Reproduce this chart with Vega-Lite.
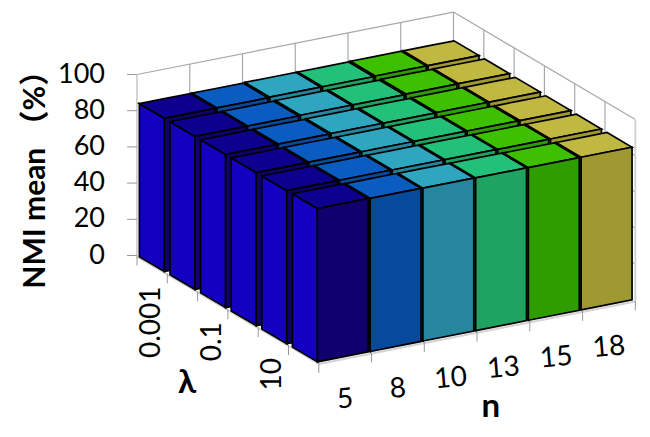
{
"$schema":"https://vega.github.io/schema/vega-lite/v6.json",
"width":650,"height":437,"padding":0,"autosize":"none","background":"white",
"config":{"view":{"stroke":null},"text":{"font":"Lato"}},
"datasets":{
"bars":[
{"lambda":"0.001","j":0,"n":"18","i":5,"value":85},{"lambda":"0.001","j":0,"n":"15","i":4,"value":85},{"lambda":"0.001","j":0,"n":"13","i":3,"value":84.8},{"lambda":"0.001","j":0,"n":"10","i":2,"value":84.8},{"lambda":"0.001","j":0,"n":"8","i":1,"value":84.6},{"lambda":"0.001","j":0,"n":"5","i":0,"value":84.6},
{"lambda":"0.01","j":1,"n":"18","i":5,"value":85},{"lambda":"0.01","j":1,"n":"15","i":4,"value":85},{"lambda":"0.01","j":1,"n":"13","i":3,"value":84.8},{"lambda":"0.01","j":1,"n":"10","i":2,"value":84.8},{"lambda":"0.01","j":1,"n":"8","i":1,"value":84.6},{"lambda":"0.01","j":1,"n":"5","i":0,"value":84.6},
{"lambda":"0.1","j":2,"n":"18","i":5,"value":84.8},{"lambda":"0.1","j":2,"n":"15","i":4,"value":84.8},{"lambda":"0.1","j":2,"n":"13","i":3,"value":84.7},{"lambda":"0.1","j":2,"n":"10","i":2,"value":84.7},{"lambda":"0.1","j":2,"n":"8","i":1,"value":84.6},{"lambda":"0.1","j":2,"n":"5","i":0,"value":84.6},
{"lambda":"1","j":3,"n":"18","i":5,"value":84.6},{"lambda":"1","j":3,"n":"15","i":4,"value":84.6},{"lambda":"1","j":3,"n":"13","i":3,"value":84.6},{"lambda":"1","j":3,"n":"10","i":2,"value":84.6},{"lambda":"1","j":3,"n":"8","i":1,"value":84.6},{"lambda":"1","j":3,"n":"5","i":0,"value":84.6},
{"lambda":"10","j":4,"n":"18","i":5,"value":84.4},{"lambda":"10","j":4,"n":"15","i":4,"value":84.4},{"lambda":"10","j":4,"n":"13","i":3,"value":84.5},{"lambda":"10","j":4,"n":"10","i":2,"value":84.5},{"lambda":"10","j":4,"n":"8","i":1,"value":84.6},{"lambda":"10","j":4,"n":"5","i":0,"value":84.6},
{"lambda":"100","j":5,"n":"18","i":5,"value":84.3},{"lambda":"100","j":5,"n":"15","i":4,"value":84.3},{"lambda":"100","j":5,"n":"13","i":3,"value":84.4},{"lambda":"100","j":5,"n":"10","i":2,"value":84.5},{"lambda":"100","j":5,"n":"8","i":1,"value":84.6},{"lambda":"100","j":5,"n":"5","i":0,"value":84.7}
],
"walls":[
{"u1":1,"v1":0,"h1":0,"u2":1,"v2":0,"h2":100},{"u1":2,"v1":0,"h1":0,"u2":2,"v2":0,"h2":100},{"u1":3,"v1":0,"h1":0,"u2":3,"v2":0,"h2":100},{"u1":4,"v1":0,"h1":0,"u2":4,"v2":0,"h2":100},{"u1":5,"v1":0,"h1":0,"u2":5,"v2":0,"h2":100},{"u1":6,"v1":0,"h1":0,"u2":6,"v2":0,"h2":100},
{"u1":6,"v1":1,"h1":0,"u2":6,"v2":1,"h2":100},{"u1":6,"v1":2,"h1":0,"u2":6,"v2":2,"h2":100},{"u1":6,"v1":3,"h1":0,"u2":6,"v2":3,"h2":100},{"u1":6,"v1":4,"h1":0,"u2":6,"v2":4,"h2":100},{"u1":6,"v1":5,"h1":0,"u2":6,"v2":5,"h2":100},
{"u1":0,"v1":0,"h1":100,"u2":6,"v2":0,"h2":100},{"u1":6,"v1":0,"h1":100,"u2":6,"v2":6,"h2":100},
{"u1":6,"v1":0,"h1":80,"u2":6,"v2":6,"h2":80},{"u1":6,"v1":0,"h1":60,"u2":6,"v2":6,"h2":60},{"u1":6,"v1":0,"h1":40,"u2":6,"v2":6,"h2":40},{"u1":6,"v1":0,"h1":20,"u2":6,"v2":6,"h2":20}
],
"edges":[
{"u1":0,"v1":0,"h1":0,"u2":0,"v2":0,"h2":100},{"u1":6,"v1":6,"h1":0,"u2":6,"v2":6,"h2":100},
{"u1":0,"v1":0,"h1":-0.6,"u2":0,"v2":6,"h2":-0.6},{"u1":0,"v1":6,"h1":-0.6,"u2":6,"v2":6,"h2":-0.6}
],
"ticks":[
{"u":0,"v":0},{"u":0,"v":1},{"u":0,"v":2},{"u":0,"v":3},{"u":0,"v":4},{"u":0,"v":5},{"u":0,"v":6},
{"u":1,"v":6},{"u":2,"v":6},{"u":3,"v":6},{"u":4,"v":6},{"u":5,"v":6},{"u":6,"v":6}
],
"heights":[{"h":0,"label":"0"},{"h":20,"label":"20"},{"h":40,"label":"40"},{"h":60,"label":"60"},{"h":80,"label":"80"},{"h":100,"label":"100"}],
"lambdas":[{"label":"0.001","v":0.5},{"label":"0.1","v":2.5},{"label":"10","v":4.5}],
"ns":[{"label":"5","u":0.5},{"label":"8","u":1.5},{"label":"10","u":2.5},{"label":"13","u":3.5},{"label":"15","u":4.5},{"label":"18","u":5.5}]
},
"layer":[
{"data":{"name":"walls"},
"transform":[
{"calculate":"137+52.75*datum.u1+30.3*datum.v1","as":"px"},{"calculate":"255.5-10.4*datum.u1+17.9*datum.v1-1.81*datum.h1","as":"py"},
{"calculate":"137+52.75*datum.u2+30.3*datum.v2","as":"px2"},{"calculate":"255.5-10.4*datum.u2+17.9*datum.v2-1.81*datum.h2","as":"py2"}],
"mark":{"type":"rule","color":"#a8a8a8","strokeWidth":1.2},
"encoding":{"x":{"field":"px","type":"quantitative","scale":{"domain":[0,650]},"axis":null},"y":{"field":"py","type":"quantitative","scale":{"domain":[437,0]},"axis":null},"x2":{"field":"px2"},"y2":{"field":"py2"}}},
{"data":{"name":"edges"},
"transform":[
{"calculate":"137+52.75*datum.u1+30.3*datum.v1","as":"px"},{"calculate":"255.5-10.4*datum.u1+17.9*datum.v1-1.81*datum.h1","as":"py"},
{"calculate":"137+52.75*datum.u2+30.3*datum.v2","as":"px2"},{"calculate":"255.5-10.4*datum.u2+17.9*datum.v2-1.81*datum.h2","as":"py2"}],
"mark":{"type":"rule","color":"#d4d4d4","strokeWidth":2},
"encoding":{"x":{"field":"px","type":"quantitative","scale":{"domain":[0,650]},"axis":null},"y":{"field":"py","type":"quantitative","scale":{"domain":[437,0]},"axis":null},"x2":{"field":"px2"},"y2":{"field":"py2"}}},
{"data":{"name":"ticks"},
"transform":[
{"calculate":"137+52.75*datum.u+30.3*datum.v","as":"px"},{"calculate":"255.5-10.4*datum.u+17.9*datum.v","as":"py"},{"calculate":"datum.py+10","as":"py2"}],
"mark":{"type":"rule","color":"#9a9a9a","strokeWidth":1},
"encoding":{"x":{"field":"px","type":"quantitative","scale":{"domain":[0,650]},"axis":null},"y":{"field":"py","type":"quantitative","scale":{"domain":[437,0]},"axis":null},"y2":{"field":"py2"}}},
{"data":{"name":"heights"},
"transform":[{"calculate":"127","as":"px"},{"calculate":"137","as":"px2"},{"calculate":"255.5-1.81*datum.h","as":"py"}],
"mark":{"type":"rule","color":"#9a9a9a","strokeWidth":1},
"encoding":{"x":{"field":"px","type":"quantitative","scale":{"domain":[0,650]},"axis":null},"x2":{"field":"px2"},"y":{"field":"py","type":"quantitative","scale":{"domain":[437,0]},"axis":null}}},
{"data":{"name":"bars"},
"transform":[
{"calculate":"[{name:'left',vs:[[0,0,0,0,1,0,0,0],[0,1,0,1,1,0,1,0]]},{name:'top',vs:[[0,0,0,0,1,0,0,1],[0,1,0.491,0,1,0,1,1],[1,0,1,0,1,0.509,1,1],[1,1,1,1,1,1,1,1]]},{name:'front',vs:[[0,1,0,1,1,0,1,0],[1,1,1,1,1,1,1,0]]}]","as":"faces"},
{"flatten":["faces"],"as":["face"]},
{"calculate":"datum.face.vs","as":"vs"},
{"flatten":["vs"],"as":["w"]},
{"calculate":"datum.j+'|'+datum.i+'|'+datum.face.name","as":"fid"},
{"calculate":"datum.n+'|'+datum.face.name","as":"shade"},
{"calculate":"datum.i+0.005","as":"u0"},
{"calculate":"1.01*datum.j+0.07","as":"v0"},
{"calculate":"137+52.75*(datum.u0+0.965*datum.w[0])+30.3*(datum.v0+0.825*datum.w[1])","as":"px"},
{"calculate":"255.5-10.4*(datum.u0+0.965*datum.w[2])+17.9*(datum.v0+0.825*datum.w[3])-1.81*datum.value*datum.w[4]","as":"py"},
{"calculate":"255.5-10.4*(datum.u0+0.965*datum.w[5])+17.9*(datum.v0+0.825*datum.w[6])-1.81*datum.value*datum.w[7]","as":"py2"}
],
"mark":{"type":"area","stroke":"#000000","strokeWidth":1.7,"strokeJoin":"miter","interpolate":"linear","opacity":1},
"encoding":{
"x":{"field":"px","type":"quantitative","scale":{"domain":[0,650]},"axis":null},
"y":{"field":"py","type":"quantitative","scale":{"domain":[437,0]},"axis":null},
"y2":{"field":"py2"},
"detail":{"field":"fid"},
"color":{"field":"shade","type":"nominal","legend":null,"scale":{
"domain":["5|top","5|front","5|left","8|top","8|front","8|left","10|top","10|front","10|left","13|top","13|front","13|left","15|top","15|front","15|left","18|top","18|front","18|left"],
"range":["#0e008e","#10006e","#1400c0","#0a5cc0","#064a9c","#0a4a9c","#2ea6c0","#26869e","#26869e","#22c078","#1fa360","#1fa360","#3cc000","#2f9c00","#2f9c00","#c0b840","#a09830","#a09830"]}}
}},
{"data":{"name":"heights"},
"transform":[{"calculate":"105","as":"px"},{"calculate":"255.5-1.81*datum.h","as":"py"}],
"mark":{"type":"text","fontSize":27,"align":"right","baseline":"middle","color":"#000000"},
"encoding":{"x":{"field":"px","type":"quantitative","scale":{"domain":[0,650]},"axis":null},"y":{"field":"py","type":"quantitative","scale":{"domain":[437,0]},"axis":null},"text":{"field":"label"}}},
{"data":{"name":"lambdas"},
"transform":[{"calculate":"137+30.3*datum.v","as":"px"},{"calculate":"255.5+17.9*datum.v+22","as":"py"}],
"mark":{"type":"text","fontSize":28,"align":"right","baseline":"middle","angle":270,"color":"#000000"},
"encoding":{"x":{"field":"px","type":"quantitative","scale":{"domain":[0,650]},"axis":null},"y":{"field":"py","type":"quantitative","scale":{"domain":[437,0]},"axis":null},"text":{"field":"label"}}},
{"data":{"name":"ns"},
"transform":[{"calculate":"137+52.75*datum.u+30.3*6","as":"px"},{"calculate":"255.5-10.4*datum.u+17.9*6+42","as":"py"}],
"mark":{"type":"text","fontSize":28,"align":"center","baseline":"middle","angle":355,"color":"#000000"},
"encoding":{"x":{"field":"px","type":"quantitative","scale":{"domain":[0,650]},"axis":null},"y":{"field":"py","type":"quantitative","scale":{"domain":[437,0]},"axis":null},"text":{"field":"label"}}},
{"data":{"values":[{"label":"λ","v":1.65}]},
"transform":[{"calculate":"137+30.3*datum.v","as":"px"},{"calculate":"255.5+17.9*datum.v+98","as":"py"}],
"mark":{"type":"text","fontSize":33,"fontWeight":"bold","align":"center","baseline":"middle","color":"#000000"},
"encoding":{"x":{"field":"px","type":"quantitative","scale":{"domain":[0,650]},"axis":null},"y":{"field":"py","type":"quantitative","scale":{"domain":[437,0]},"axis":null},"text":{"field":"label"}}},
{"data":{"values":[{"label":"n","u":3.26}]},
"transform":[{"calculate":"137+52.75*datum.u+30.3*6","as":"px"},{"calculate":"255.5-10.4*datum.u+17.9*6+78","as":"py"}],
"mark":{"type":"text","fontSize":33,"fontWeight":"bold","align":"center","baseline":"middle","color":"#000000"},
"encoding":{"x":{"field":"px","type":"quantitative","scale":{"domain":[0,650]},"axis":null},"y":{"field":"py","type":"quantitative","scale":{"domain":[437,0]},"axis":null},"text":{"field":"label"}}},
{"data":{"values":[{"label":"NMI mean （%）","h":46}]},
"transform":[{"calculate":"36","as":"px"},{"calculate":"255.5-1.81*datum.h","as":"py"}],
"mark":{"type":"text","fontSize":30,"fontWeight":"bold","font":"Lato, Noto Sans CJK SC","align":"center","baseline":"middle","angle":270,"color":"#000000"},
"encoding":{"x":{"field":"px","type":"quantitative","scale":{"domain":[0,650]},"axis":null},"y":{"field":"py","type":"quantitative","scale":{"domain":[437,0]},"axis":null},"text":{"field":"label"}}}
]
}
